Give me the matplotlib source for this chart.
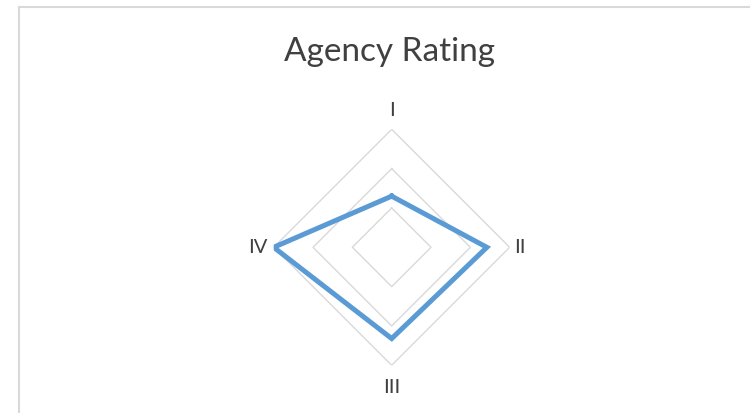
import matplotlib.pyplot as plt
import matplotlib.patches as patches
import numpy as np

# datos del grafico
categories = ['I', 'II', 'III', 'IV']
values = [1.3, 2.42, 2.32, 3.0]
grid_levels = [1, 2, 3]

plt.rcParams['font.family'] = ['Lato', 'DejaVu Sans']

fig = plt.figure(figsize=(7.5, 4.13), dpi=100)

# marco gris del area del grafico
frame = patches.Rectangle((19 / 750, -0.1), 1.2, (406 / 413) + 0.1, transform=fig.transFigure,
                          fill=False, edgecolor='#D9D9D9', linewidth=1.5)
fig.patches.append(frame)

fig.text(390 / 750, (413 - 61) / 413, 'Agency Rating', ha='center', va='baseline',
         fontsize=24, color='#404040')

ax = fig.add_axes([0.3649, 0.1155, 0.3147, 0.5714], projection='polar')
ax.set_theta_offset(np.pi / 2)
ax.set_theta_direction(-1)

angles = np.linspace(0, 2 * np.pi, len(categories), endpoint=False)
closed = np.concatenate([angles, angles[:1]])

# rejilla en forma de rombo
for lvl in grid_levels:
    ax.plot(closed, [lvl] * len(closed), color='#D9D9D9', linewidth=1, zorder=1)

ax.plot(closed, values + values[:1], color='#5B9BD5', linewidth=3.6,
        solid_joinstyle='miter', zorder=3)

ax.set_ylim(0, 3)
ax.set_xticks([])
ax.set_yticks([])
ax.spines['polar'].set_visible(False)
ax.grid(False)
ax.patch.set_alpha(0)

# etiquetas de las categorias
label_r = [3.33, 3.11, 3.35, 3.17]
ha = ['center', 'left', 'center', 'right']
va = ['baseline', 'center', 'top', 'center']
for a, lab, r, h, v in zip(angles, categories, label_r, ha, va):
    ax.text(a, r, lab, ha=h, va=v, fontsize=14.5, color='#404040', clip_on=False)

plt.savefig('out.png', dpi=100)
